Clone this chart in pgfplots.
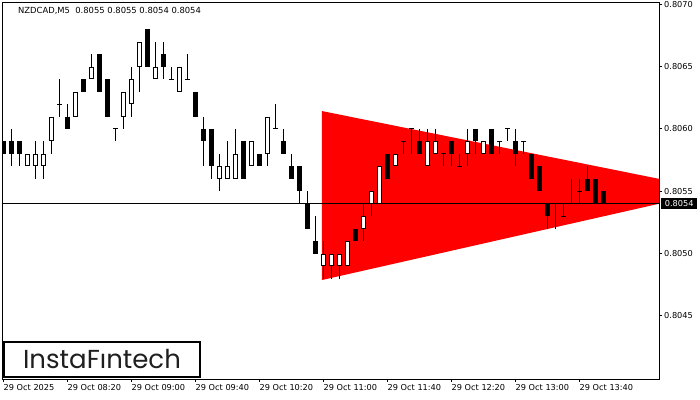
\documentclass[border=0pt]{standalone}
\usepackage{pgfplots}
\pgfplotsset{compat=1.18}
\usepackage{pgfplotstable}
\usepackage{fontspec}
\setmainfont{DejaVu Sans}
\newfontfamily\logofont{Poppins}

% bearish candles: index open high low close
\pgfplotstableread{
i o h l c
0 0.8059 0.8059 0.8058 0.8058
1 0.8059 0.8060 0.8057 0.8058
2 0.8059 0.8059 0.8057 0.8058
8 0.8061 0.8062 0.8060 0.8060
10 0.8064 0.8064 0.8063 0.8063
12 0.8066 0.8066 0.8063 0.8063
13 0.8064 0.8064 0.8061 0.8061
18 0.8068 0.8068 0.8065 0.8065
20 0.8066 0.8067 0.8064 0.8065
24 0.8063 0.8063 0.8061 0.8061
25 0.8060 0.8061 0.8057 0.8059
26 0.8060 0.8060 0.8056 0.8057
30 0.8059 0.8059 0.8056 0.8056
32 0.8058 0.8058 0.8057 0.8057
35 0.8059 0.8060 0.8058 0.8058
36 0.8057 0.8058 0.8056 0.8056
37 0.8057 0.8057 0.8054 0.8055
38 0.8054 0.8055 0.8052 0.8052
39 0.8051 0.8053 0.8050 0.8050
44 0.8052 0.8052 0.8051 0.8051
48 0.8058 0.8058 0.8056 0.8056
52 0.8059 0.8060 0.8058 0.8058
56 0.8059 0.8059 0.8057 0.8058
59 0.8060 0.8060 0.8058 0.8059
61 0.8060 0.8060 0.8058 0.8058
64 0.8059 0.8060 0.8057 0.8058
66 0.8058 0.8058 0.8056 0.8056
67 0.8057 0.8057 0.8055 0.8055
68 0.8054 0.8054 0.8052 0.8053
73 0.8056 0.8057 0.8055 0.8055
74 0.8056 0.8056 0.8054 0.8054
75 0.8055 0.8055 0.8054 0.8054
}\bear

% bullish candles
\pgfplotstableread{
i o h l c
3 0.8057 0.8058 0.8057 0.8058
4 0.8057 0.8059 0.8056 0.8058
5 0.8057 0.8059 0.8056 0.8058
6 0.8059 0.8061 0.8058 0.8061
9 0.8061 0.8063 0.8061 0.8063
11 0.8064 0.8066 0.8064 0.8065
15 0.8061 0.8063 0.8060 0.8063
16 0.8062 0.8065 0.8061 0.8064
17 0.8065 0.8067 0.8063 0.8067
19 0.8064 0.8067 0.8064 0.8065
22 0.8063 0.8065 0.8063 0.8065
27 0.8056 0.8058 0.8055 0.8057
28 0.8056 0.8059 0.8056 0.8057
29 0.8056 0.8060 0.8056 0.8058
31 0.8057 0.8059 0.8057 0.8059
33 0.8058 0.8061 0.8057 0.8061
40 0.8049 0.8051 0.8048 0.8050
41 0.8049 0.8050 0.8048 0.8050
42 0.8049 0.8050 0.8048 0.8050
43 0.8049 0.8051 0.8049 0.8051
45 0.8052 0.8054 0.8051 0.8053
46 0.8054 0.8055 0.8053 0.8055
47 0.8054 0.8057 0.8054 0.8057
49 0.8057 0.8058 0.8057 0.8058
53 0.8057 0.8060 0.8057 0.8059
54 0.8058 0.8060 0.8058 0.8059
58 0.8058 0.8060 0.8057 0.8059
60 0.8058 0.8059 0.8058 0.8059
}\bull

% doji candles
\pgfplotstableread{
i o h l c
7 0.8062 0.8064 0.8061 0.8062
14 0.8060 0.8060 0.8059 0.8060
21 0.8064 0.8065 0.8064 0.8064
23 0.8064 0.8066 0.8064 0.8064
34 0.8060 0.8062 0.8060 0.8060
50 0.8059 0.8059 0.8058 0.8059
51 0.8060 0.8060 0.8058 0.8060
55 0.8058 0.8058 0.8057 0.8058
57 0.8057 0.8058 0.8057 0.8057
62 0.8059 0.8059 0.8058 0.8059
63 0.8060 0.8060 0.8059 0.8060
65 0.8059 0.8059 0.8058 0.8059
69 0.8054 0.8054 0.8052 0.8054
70 0.8053 0.8054 0.8053 0.8053
71 0.8054 0.8056 0.8054 0.8054
72 0.8055 0.8056 0.8054 0.8055
}\doji

\pgfplotsset{
  candle/.style={draw=none, mark=none, forget plot,
    error bars/.cd, y dir=minus, y explicit, error mark=none,
    error bar style={draw=black, solid, line width=#1}},
  candlewhite/.style={draw=none, mark=none, forget plot,
    error bars/.cd, y dir=minus, y explicit, error mark=none,
    error bar style={draw=white, solid, line width=#1, shorten <=1bp, shorten >=1bp}},
}

\begin{document}
\begin{tikzpicture}
\useasboundingbox (0,0) rectangle (700bp,400bp);
\begin{axis}[
  at={(2.5bp,21bp)}, anchor=south west,
  scale only axis, width=656.5bp, height=376.5bp,
  xmin=-0.125, xmax=81.94, ymin=0.803994, ymax=0.807015,
  clip mode=individual,
  axis line style={line width=1bp, black},
  xtick={0,8,16,24,32,40,48,56,64,72},
  xticklabels={29 Oct 2025,29 Oct 08:20,29 Oct 09:00,29 Oct 09:40,29 Oct 10:20,29 Oct 11:00,29 Oct 11:40,29 Oct 12:20,29 Oct 13:00,29 Oct 13:40},
  ytick={0.8045,0.805,0.8055,0.806,0.8065,0.807},
  yticklabels={0.8045,0.8050,0.8055,0.8060,0.8065,0.8070},
  xtick pos=left, ytick pos=right, yticklabel pos=right,
  tick align=outside, major tick length=3bp,
  tick style={black, line width=1bp},
  tick label style={font=\fontsize{8.2bp}{9bp}\selectfont, inner sep=0pt, text=black},
  xticklabel style={anchor=north west, yshift=-2bp},
  yticklabel style={anchor=west, xshift=2bp},
]
% red symmetrical triangle
\addplot[fill=red, draw=none, forget plot] coordinates {(39.8,0.806144) (89.23,0.805506) (39.8,0.804788)} -- cycle;
% current price line
\addplot[black, line width=1bp, forget plot] coordinates {(-1,0.8054) (90,0.8054)};
% wicks
\addplot[candle=1bp] table[x=i, y=h, y error expr=\thisrow{h}-\thisrow{l}] {\bear};
\addplot[candle=1bp] table[x=i, y=h, y error expr=\thisrow{h}-\thisrow{l}] {\bull};
\addplot[candle=1bp] table[x=i, y=h, y error expr=\thisrow{h}-\thisrow{l}] {\doji};
% bearish bodies
\addplot[candle=4.7bp] table[x=i, y=o, y error expr=\thisrow{o}-\thisrow{c}] {\bear};
% bullish bodies
\addplot[candle=4.7bp] table[x=i, y=c, y error expr=\thisrow{c}-\thisrow{o}] {\bull};
\addplot[candlewhite=2.7bp] table[x=i, y=c, y error expr=\thisrow{c}-\thisrow{o}] {\bull};
% doji bodies
\addplot[only marks, mark=-, mark size=2.35bp, mark options={draw=black, line width=1bp}, forget plot] table[x=i, y=o] {\doji};
% price label
\node[fill=black, text=white, anchor=west, inner sep=0pt, minimum width=36bp, minimum height=11bp, font=\fontsize{8.2bp}{9bp}\selectfont, xshift=2bp] at (axis cs:81.94,0.8054) {0.8054};
\end{axis}
\node[anchor=west, inner sep=0pt, font=\fontsize{8.4bp}{9bp}\selectfont] at (18bp,389bp) {NZDCAD,M5\ \ 0.8055 0.8055 0.8054 0.8054};
\draw[line width=2bp, fill=white] (3.7bp,23bp) rectangle (200bp,58.3bp);
\node[font=\logofont\fontsize{26bp}{26bp}\selectfont, text=black!88] at (102bp,41.5bp) {InstaFıntech};
\end{tikzpicture}
\end{document}
